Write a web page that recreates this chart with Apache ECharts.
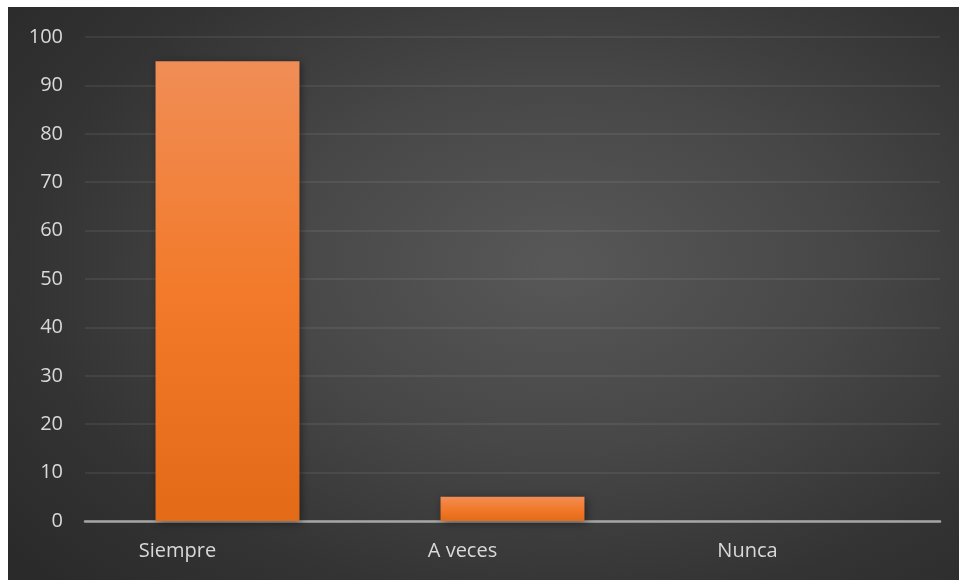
<!DOCTYPE html>
<html>
<head>
<meta charset="utf-8">
<script src="https://cdn.jsdelivr.net/npm/echarts@6/dist/echarts.min.js"></script>
<style>
  html, body { margin: 0; padding: 0; background: #ffffff; }
  #chart {
    position: absolute; left: 8px; top: 7px; width: 951px; height: 573px;
    background: radial-gradient(ellipse 75% 80% at 58% 45%, #585858 0%, #474747 40%, #333333 75%, #2a2a2a 100%);
  }
</style>
</head>
<body>
<div id="chart"></div>
<script>
const categories = ['Siempre', 'A veces', 'Nunca'];
const values = [95, 5, 0];
const yTicks = { min: 0, max: 100, interval: 10 };

const chart = echarts.init(document.getElementById('chart'), null, { renderer: 'canvas' });
chart.setOption({
  backgroundColor: 'transparent',
  animation: false,
  grid: { left: 77, right: 19, top: 30, bottom: 59 },
  xAxis: {
    type: 'category',
    data: categories,
    axisLine: { lineStyle: { color: '#a6a6a6', width: 2.5 } },
    axisTick: { show: false },
    axisLabel: {
      color: '#d9d9d9', fontSize: 20, fontFamily: 'Open Sans, Noto Sans, sans-serif',
      margin: 20, padding: [0, 100, 0, 0]
    }
  },
  yAxis: {
    type: 'value',
    min: yTicks.min, max: yTicks.max, interval: yTicks.interval,
    axisLine: { show: false },
    axisTick: { show: false },
    splitLine: { lineStyle: { color: 'rgba(255,255,255,0.09)', width: 1.5 } },
    axisLabel: { color: '#d9d9d9', fontSize: 20, fontFamily: 'Open Sans, Noto Sans, sans-serif', margin: 22 }
  },
  series: [{
    type: 'bar',
    data: values,
    barWidth: '50.5%',
    itemStyle: {
      color: new echarts.graphic.LinearGradient(0, 0, 0, 1, [
        { offset: 0, color: '#f08d56' },
        { offset: 0.5, color: '#f27a2a' },
        { offset: 1, color: '#e36a17' }
      ]),
      shadowColor: 'rgba(0,0,0,0.45)',
      shadowBlur: 8,
      shadowOffsetX: 2,
      shadowOffsetY: 2
    }
  }]
});
</script>
</body>
</html>
